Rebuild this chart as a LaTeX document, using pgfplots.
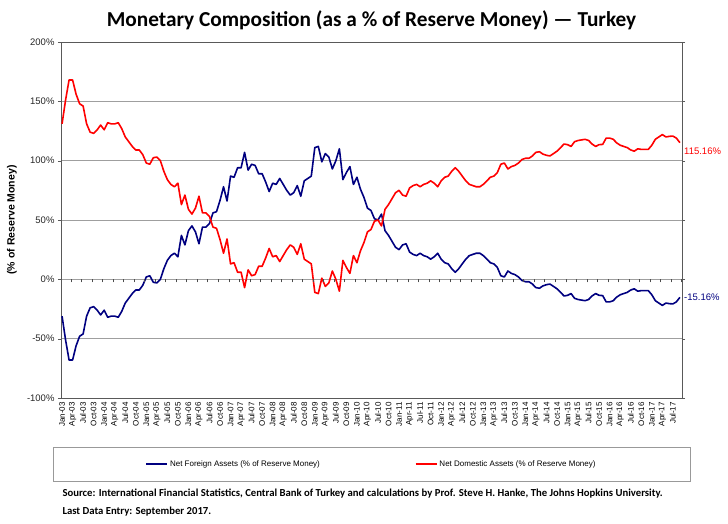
\documentclass[border=0pt]{standalone}
\usepackage{fontspec}
\setmainfont{Liberation Sans}
\newfontfamily\carlito{Carlito}
\usepackage{pgfplots}
\usepackage{pgfplotstable}
\pgfplotsset{compat=1.18}
\definecolor{nfa}{RGB}{0,0,128}
\definecolor{nda}{RGB}{255,0,0}

\pgfplotstableread{
m nda nfa
0 131 -31
1 151 -51
2 168 -68
3 168 -68
4 156 -56
5 148 -48
6 146 -46
7 131 -31
8 124 -24
9 123 -23
10 126 -26
11 130 -30
12 126 -26
13 132 -32
14 131 -31
15 131 -31
16 132 -32
17 127 -27
18 120 -20
19 116 -16
20 112 -12
21 109 -9
22 109 -9
23 105 -5
24 98 2
25 97 3
26 102.5 -2.5
27 103 -3
28 100 0
29 91 9
30 84 16
31 80 20
32 78 22
33 81 19
34 63 37
35 71 29
36 59 41
37 55 45
38 60 40
39 70 30
40 56 44
41 56 44
42 53 47
43 44 56
44 43 57
45 33.5 66.5
46 22 78
47 34 66
48 13 87
49 14 86
50 6 94
51 6 94
52 -7 107
53 8 92
54 3 97
55 4 96
56 11 89
57 11 89
58 18 82
59 26 74
60 19 81
61 20 80
62 15 85
63 20 80
64 25 75
65 29 71
66 27 73
67 21 79
68 30 70
69 17 83
70 15 85
71 13 87
72 -11 111
73 -12 112
74 1 99
75 -6 106
76 -3 103
77 7 93
78 0 100
79 -10 110
80 16 84
81 10 90
82 5 95
83 20 80
84 14 86
85 24 76
86 31 69
87 40 60
88 42 58
89 49 51
90 50 50
91 45 55
92 59 41
93 63 37
94 68 32
95 73 27
96 75 25
97 71 29
98 70 30
99 77 23
100 79 21
101 80 20
102 78 22
103 80 20
104 81 19
105 83 17
106 81 19
107 78 22
108 83 17
109 86 14
110 87 13
111 91 9
112 94 6
113 91 9
114 87 13
115 83 17
116 80 20
117 79 21
118 78 22
119 78 22
120 80 20
121 83 17
122 86 14
123 87 13
124 90 10
125 97 3
126 98 2
127 93 7
128 95 5
129 96 4
130 98 2
131 101 -1
132 102 -2
133 102 -2
134 104 -4
135 107 -7
136 107.5 -7.5
137 105.5 -5.5
138 104.5 -4.5
139 104 -4
140 106 -6
141 108 -8
142 111 -11
143 114 -14
144 113.5 -13.5
145 112 -12
146 116 -16
147 117 -17
148 117.5 -17.5
149 118 -18
150 117 -17
151 114 -14
152 112 -12
153 113.5 -13.5
154 113.7 -13.7
155 119 -19
156 119 -19
157 118 -18
158 115 -15
159 113 -13
160 112 -12
161 111 -11
162 109 -9
163 108 -8
164 110 -10
165 109.5 -9.5
166 109.5 -9.5
167 109.5 -9.5
168 113 -13
169 118 -18
170 120 -20
171 122 -22
172 120 -20
173 120.5 -20.5
174 120.7 -20.7
175 119 -19
176 115.16 -15.16
}\datatable

\begin{document}
\begin{tikzpicture}
\useasboundingbox (0pt,0pt) rectangle (728pt,524pt);
\node[font=\carlito\bfseries\fontsize{21.3}{25}\selectfont] at (371.5pt,504pt) {Monetary Composition (as a \% of Reserve Money) — Turkey};
\node[rotate=90, font=\bfseries\fontsize{10.5}{12}\selectfont] at (12pt,304pt) {(\% of Reserve Money)};

\begin{axis}[
  at={(61pt,126pt)}, anchor=south west,
  width=621pt, height=356pt, scale only axis,
  xmin=-0.3, xmax=176.6, ymin=-100, ymax=200,
  clip=false,
  axis line style={gray!70!black, line width=0.8pt},
  ytick={-100,-50,0,50,100,150,200},
  yticklabels={-100\%,-50\%,0\%,50\%,100\%,150\%,200\%},
  yticklabel style={font=\fontsize{9.5}{11}\selectfont, text=black!85},
  ymajorgrids, major grid style={gray!75, line width=0.9pt},
  tick align=outside, major tick length=3pt,
  ytick style={gray!70!black},
  xtick={0,3,...,174},
  xticklabels={Jan-03,Apr-03,Jul-03,Oct-03,Jan-04,Apr-04,Jul-04,Oct-04,Jan-05,Apr-05,Jul-05,Oct-05,Jan-06,Apr-06,Jul-06,Oct-06,Jan-07,Apr-07,Jul-07,Oct-07,Jan-08,Apr-08,Jul-08,Oct-08,Jan-09,Apr-09,Jul-09,Oct-09,Jan-10,Apr-10,Jul-10,Oct-10,Jan-11,Apr-11,Jul-11,Oct-11,Jan-12,Apr-12,Jul-12,Oct-12,Jan-13,Apr-13,Jul-13,Oct-13,Jan-14,Apr-14,Jul-14,Oct-14,Jan-15,Apr-15,Jul-15,Oct-15,Jan-16,Apr-16,Jul-16,Oct-16,Jan-17,Apr-17,Jul-17},
  xtick style={draw=none},
  xticklabel style={rotate=90, anchor=east, font=\fontsize{8}{9}\selectfont, inner sep=1pt, text=black},
  legend style={at={(0.5,-0.1854)}, anchor=center, draw=none, fill=none,
    font=\fontsize{8}{9}\selectfont, legend columns=2,
    /tikz/every even column/.append style={column sep=93pt}},
  legend image code/.code={\draw[#1] (0pt,0pt) -- (21pt,0pt);},
]
\addplot[nfa, line width=1.6pt, line join=round] table[x=m, y=nfa] {\datatable};
\addlegendentry{Net Foreign Assets (\% of Reserve Money)}
\addplot[nda, line width=1.6pt, line join=round] table[x=m, y=nda] {\datatable};
\addlegendentry{Net Domestic Assets (\% of Reserve Money)}
\node[anchor=west, text=nda, font=\fontsize{9.5}{11}\selectfont, inner sep=2pt, yshift=-9pt] at (axis cs:176.6,115.16) {115.16\%};
\node[anchor=west, text=nfa, font=\fontsize{9.5}{11}\selectfont, inner sep=2pt] at (axis cs:176.6,-15.16) {-15.16\%};
\end{axis}

\begin{axis}[
  at={(61pt,126pt)}, anchor=south west,
  width=621pt, height=356pt, scale only axis,
  xmin=-0.3, xmax=176.6, ymin=-100, ymax=200,
  axis x line*=middle, axis y line=none,
  x axis line style={draw=none},
  xtick={2.5,5.5,...,176}, xticklabels={}, ytick=\empty,
  tick align=outside, major tick length=3pt,
  xtick style={gray!60!black, line width=0.6pt},
]
\addplot[draw=none] coordinates {(0,0)};
\end{axis}

\draw[gray!80, line width=0.6pt] (53pt,43pt) rectangle (690pt,77pt);
\node[anchor=west, font=\carlito\bfseries\fontsize{10.7}{12}\selectfont] at (59pt,30pt) {Source: International Financial Statistics, Central Bank of Turkey and calculations by Prof. Steve H. Hanke, The Johns Hopkins University.};
\node[anchor=west, font=\carlito\bfseries\fontsize{10.7}{12}\selectfont] at (59pt,12pt) {Last Data Entry: September 2017.};
\end{tikzpicture}
\end{document}
